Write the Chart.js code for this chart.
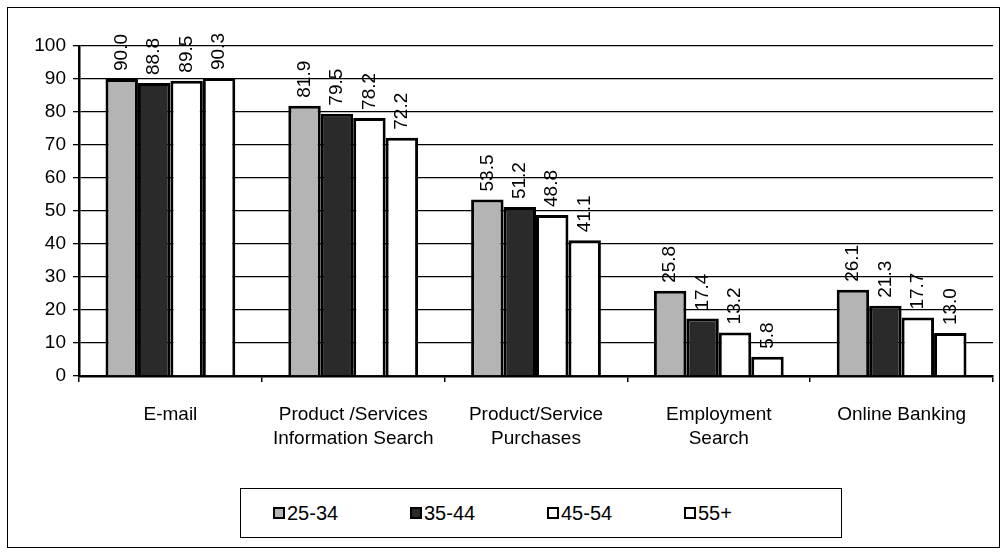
<!DOCTYPE html>
<html lang="en">

<head>
	<meta charset="UTF-8">
	<title>Internet Activities by Age Group</title>
	<script src="https://cdn.jsdelivr.net/npm/chart.js"></script>
	<style>
		body {
			margin: 0;
			background: #fff;
			font-family: "Liberation Sans", Arial, sans-serif;
		}

		#frame {
			position: absolute;
			left: 7px;
			top: 7px;
			width: 993px;
			height: 541px;
			border: 1.5px solid #000;
			box-sizing: border-box;
		}

		#chartBox {
			position: absolute;
			left: 0;
			top: 0;
			width: 1003px;
			height: 480px;
		}

		#legend {
			position: absolute;
			left: 240px;
			top: 488px;
			width: 602px;
			height: 50px;
			border: 1.5px solid #000;
			box-sizing: border-box;
			display: flex;
			align-items: center;
			padding-left: 32px;
			font-size: 20px;
		}

		.item {
			width: 137px;
			display: flex;
			align-items: center;
		}

		.swatch {
			width: 12px;
			height: 12px;
			border: 2px solid #000;
			box-sizing: border-box;
			margin-right: 2px;
		}
	</style>
</head>

<body>
	<div id="frame"></div>
	<div id="chartBox"><canvas id="usageChart"></canvas></div>
	<div id="legend"></div>

	<script>
		// chart data
		const categories = [
			['E-mail'],
			['Product /Services', 'Information Search'],
			['Product/Service', 'Purchases'],
			['Employment', 'Search'],
			['Online Banking']
		];
		const ageGroups = ['25-34', '35-44', '45-54', '55+'];
		const age25to34 = [90.0, 81.9, 53.5, 25.8, 26.1];
		const age35to44 = [88.8, 79.5, 51.2, 17.4, 21.3];
		const age45to54 = [89.5, 78.2, 48.8, 13.2, 17.7];
		const age55plus = [90.3, 72.2, 41.1, 5.8, 13.0];
		const yTicks = [0, 10, 20, 30, 40, 50, 60, 70, 80, 90, 100];

		const fills = ['#b4b4b4', '#2a2a2a', '#ffffff', '#ffffff'];
		const seriesValues = [age25to34, age35to44, age45to54, age55plus];
		const fontFamily = '"Liberation Sans", Arial, sans-serif';

		// value labels drawn vertically above each bar
		const valueLabels = {
			id: 'valueLabels',
			afterDatasetsDraw(chart) {
				const ctx = chart.ctx;
				ctx.save();
				ctx.font = '19px ' + fontFamily;
				ctx.fillStyle = '#000';
				ctx.textAlign = 'left';
				ctx.textBaseline = 'middle';
				chart.data.datasets.forEach((ds, i) => {
					chart.getDatasetMeta(i).data.forEach((bar, j) => {
						ctx.save();
						ctx.translate(bar.x, bar.y - 8);
						ctx.rotate(-Math.PI / 2);
						ctx.fillText(ds.data[j].toFixed(1), 0, 0);
						ctx.restore();
					});
				});
				ctx.restore();
			}
		};

		const ctx = document.getElementById('usageChart').getContext('2d');
		new Chart(ctx, {
			type: 'bar',
			data: {
				labels: categories,
				datasets: ageGroups.map((name, i) => ({
					label: name,
					data: seriesValues[i],
					backgroundColor: fills[i],
					borderColor: '#000',
					borderWidth: 3,
					categoryPercentage: 0.71,
					barPercentage: 1
				}))
			},
			options: {
				responsive: true,
				maintainAspectRatio: false,
				animation: false,
				layout: {
					padding: { top: 46, right: 10, bottom: 0, left: 0 }
				},
				plugins: {
					legend: { display: false },
					tooltip: { enabled: false }
				},
				scales: {
					x: {
						afterFit: (scale) => { scale.height = 104; },
						grid: {
							display: true,
							offset: true,
							drawOnChartArea: false,
							color: '#000',
							lineWidth: 1.5,
							tickLength: 6
						},
						border: { display: true, color: '#000', width: 2.5 },
						ticks: {
							color: '#000',
							padding: 20,
							maxRotation: 0,
							font: { family: fontFamily, size: 19, lineHeight: 1.3 }
						}
					},
					y: {
						min: 0,
						max: 100,
						afterFit: (scale) => { scale.width = 79; },
						afterBuildTicks: (scale) => {
							scale.ticks = yTicks.map(v => ({ value: v }));
						},
						grid: {
							color: '#000',
							lineWidth: 1.3,
							tickLength: 6
						},
						border: { display: true, color: '#000', width: 2.5 },
						ticks: {
							color: '#000',
							padding: 7,
							font: { family: fontFamily, size: 19 }
						}
					}
				}
			},
			plugins: [valueLabels]
		});

		// boxed legend under the chart
		const legend = document.getElementById('legend');
		ageGroups.forEach((name, i) => {
			const item = document.createElement('div');
			item.className = 'item';
			item.innerHTML = `<span class="swatch" style="background:${fills[i]}"></span><span>${name}</span>`;
			legend.appendChild(item);
		});
	</script>

</body>

</html>
